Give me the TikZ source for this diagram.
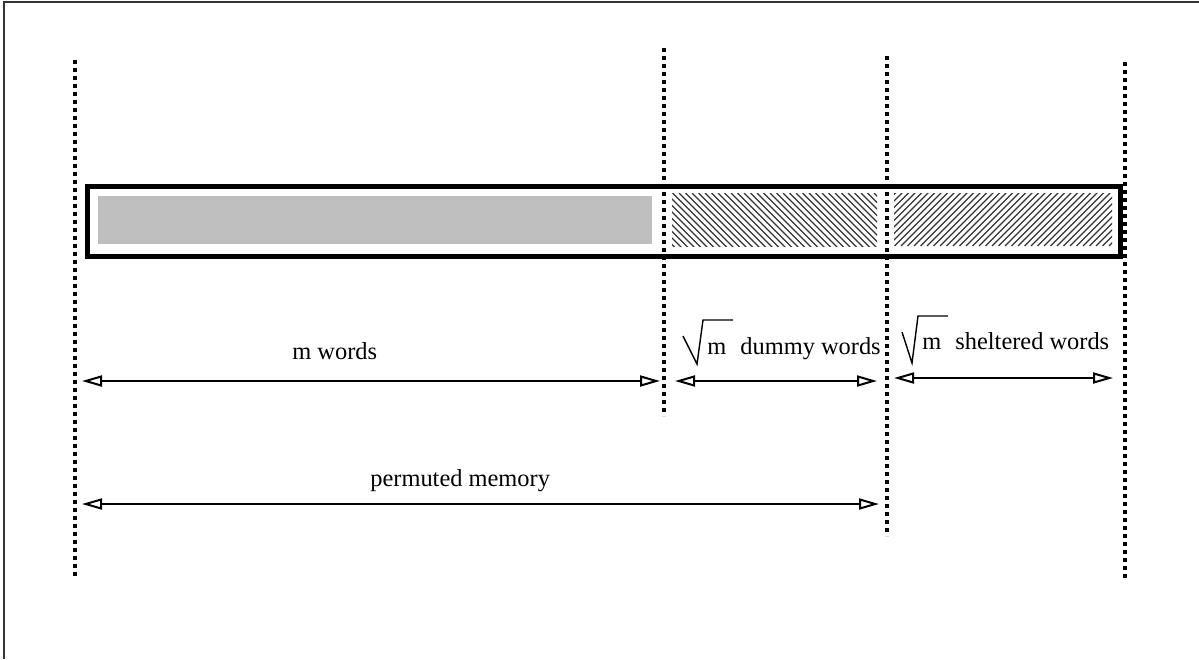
\documentclass[tikz,border=0pt]{standalone}
\usepackage{fontspec}
\setmainfont{Liberation Serif}
\usetikzlibrary{arrows.meta}
\begin{document}
\begin{tikzpicture}[x=0.5pt,y=-0.5pt,
  guide/.style={line width=2pt, dash pattern=on 2pt off 2pt},
  tip/.tip={Triangle[open,length=10pt,width=5.5pt,line width=1pt]},
  dim/.style={line width=1.1pt,{tip}-{tip}},
  lbl/.style={inner sep=0pt,anchor=base west,font=\fontsize{12.2}{14}\selectfont},
  rad/.style={line width=0.7pt, line join=miter},
  hatch/.style={line width=0.65pt, black!80}]
\useasboundingbox (0,0) rectangle (1199,659);
% frame (top and left edges only)
\coordinate (fbl) at (4,659);
\coordinate (ftl) at (4,2);
\coordinate (ftr) at (1199,2);
\draw[line width=1pt, black!80] (fbl) -- (ftl) -- (ftr);
% memory box
\fill[black!25] (98,196) rectangle (652,244);
\begin{scope}
  \clip (672,193) rectangle (877,246);
  \foreach \c in {0,...,42} \draw[hatch] ({614+\c*6.5},193) -- ++(60,60);
\end{scope}
\begin{scope}
  \clip (894,193) rectangle (1112,246);
  \foreach \c in {0,...,44} \draw[hatch] ({836+\c*6.5},246) -- ++(60,-60);
\end{scope}
\draw[line width=2.5pt] (87.5,186.5) rectangle (1120,256);
% dotted guide lines
\coordinate (g1t) at (75,60);   \coordinate (g1b) at (75,578);
\coordinate (g2t) at (664,48);  \coordinate (g2b) at (664,416);
\coordinate (g3t) at (887,56);  \coordinate (g3b) at (887,536);
\coordinate (g4t) at (1125,62); \coordinate (g4b) at (1125,580);
\draw[guide] (g1t) -- (g1b);
\draw[guide] (g2t) -- (g2b);
\draw[guide] (g3t) -- (g3b);
\draw[guide] (g4t) -- (g4b);
% dimension arrows
\coordinate (mwL) at (82,381);  \coordinate (mwR) at (660,381);
\coordinate (dwL) at (675,381); \coordinate (dwR) at (877,381);
\coordinate (swL) at (894,378); \coordinate (swR) at (1113,378);
\coordinate (pmL) at (82,504);  \coordinate (pmR) at (879,504);
\draw[dim] (mwL) -- (mwR);
\draw[dim] (dwL) -- (dwR);
\draw[dim] (swL) -- (swR);
\draw[dim] (pmL) -- (pmR);
% labels
\node[lbl] (mw) at (292,359) {m words};
\node[lbl] (dm) at (707,354) {m};
\node[lbl] (dw) at (740,354) {dummy words};
\node[lbl] (sm) at (922,349) {m};
\node[lbl] (sw) at (955,349) {sheltered words};
\node[lbl] (pm) at (370,486) {permuted memory};
% radicals
\coordinate (r1a) at (683,336); \coordinate (r1b) at (697,364);
\coordinate (r1c) at (703,320); \coordinate (r1d) at (733,320);
\draw[rad] (r1a) -- (r1b) -- (r1c) -- (r1d);
\coordinate (r2a) at (902,332); \coordinate (r2b) at (912,363);
\coordinate (r2c) at (918,316); \coordinate (r2d) at (948,316);
\draw[rad] (r2a) -- (r2b) -- (r2c) -- (r2d);
\end{tikzpicture}
\end{document}
